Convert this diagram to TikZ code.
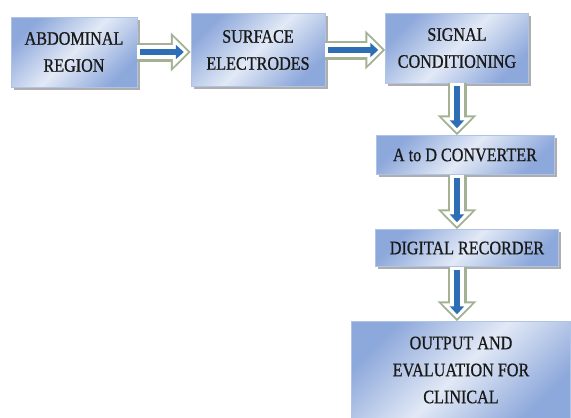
\documentclass[tikz,border=0pt]{standalone}
\usepackage{fontspec}
\setmainfont{Liberation Serif}[FakeStretch=0.85,FakeBold=0.8]
\usetikzlibrary{arrows.meta,shadows}
\definecolor{boxdark}{HTML}{8DA8DB}
\definecolor{boxlight}{HTML}{E2E9F6}
\definecolor{boxline}{HTML}{AFC3E6}
\definecolor{arredge}{HTML}{A3B293}
\definecolor{arrblue}{HTML}{2E6EB5}

\begin{document}
\begin{tikzpicture}[x=1pt,y=-1pt,
  font=\rmfamily\fontsize{19}{27}\selectfont,
  r/.style={rectangle, draw=boxline, left color=boxdark, right color=boxdark,
            middle color=boxlight, shading angle=45, align=center, inner sep=0pt,
            text=black!90,
            drop shadow={shadow xshift=2.5pt, shadow yshift=-2.5pt, fill=black!45, opacity=.7}},
  blk/.style={draw=arredge, line width=19pt, -{Triangle[width=38pt,length=20pt]},
    postaction={draw=white, line width=14pt, -{Triangle[width=29pt,length=15pt]}, shorten >=3pt},
    postaction={draw=arrblue, line width=6pt, -{Triangle[width=14pt,length=8pt]}, shorten >=7pt, shorten <=3pt}}
]
  \useasboundingbox (0,0) rectangle (571,418);
  \node[r, minimum width=126pt, minimum height=70pt] (abd) at (74,52) {ABDOMINAL\\REGION};
  \node[r, minimum width=134pt, minimum height=73pt] (sur) at (258,50) {SURFACE\\ELECTRODES};
  \node[r, minimum width=143pt, minimum height=70pt] (sig) at (457,48) {SIGNAL\\CONDITIONING};
  \node[r, minimum width=178pt, minimum height=39pt] (adc) at (465,155) {A to D CONVERTER};
  \node[r, minimum width=183pt, minimum height=37pt] (dig) at (467,248) {DIGITAL RECORDER};
  \node[r, minimum width=219pt, minimum height=97pt] (out) at (461,370) {OUTPUT AND\\EVALUATION FOR\\CLINICAL};
  % block arrows
  \draw[blk] (abd.east) -- (abd.east -| sur.west);
  \draw[blk] (sur.east) -- (sur.east -| sig.west);
  \draw[blk] (sig.south) -- (sig.south |- adc.north);
  \draw[blk] (sig.south |- adc.south) -- (sig.south |- dig.north);
  \draw[blk] (sig.south |- dig.south) -- (sig.south |- out.north);
\end{tikzpicture}
\end{document}
